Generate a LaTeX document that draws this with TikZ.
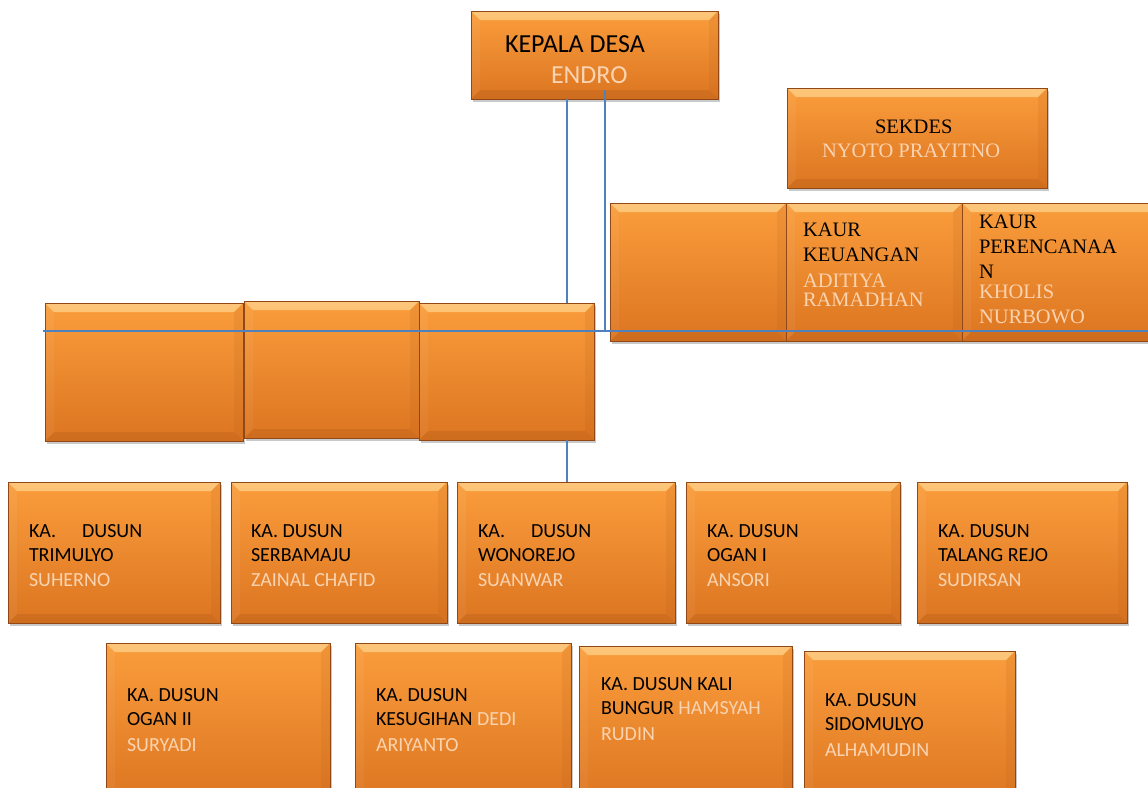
\documentclass[tikz,border=0pt]{standalone}
\usepackage{fontspec}
\setmainfont{Carlito}
\newfontfamily\tnr{Liberation Serif}
\usetikzlibrary{shadows}
\definecolor{orA}{HTML}{FA9D3C}
\definecolor{orB}{HTML}{F7922E}
\definecolor{orC}{HTML}{DC7521}
\definecolor{bevL}{HTML}{FDC67A}
\definecolor{bevD}{HTML}{A9561A}
\definecolor{nm}{HTML}{FAD3B1}
\definecolor{ln}{HTML}{4F81BD}
\tikzset{
  obox/.style={draw=bevD!85!black, line width=0.6pt, inner sep=0pt, outer sep=0pt,
    anchor=north west, top color=orA, middle color=orB, bottom color=orC,
    drop shadow={shadow xshift=2pt, shadow yshift=-3pt, opacity=0.3, fill=black!70},
    path picture={
      \shade[top color=bevL, bottom color=orA]
        (path picture bounding box.north west) -- (path picture bounding box.north east)
        -- ([xshift=-9pt,yshift=-9pt]path picture bounding box.north east)
        -- ([xshift=9pt,yshift=-9pt]path picture bounding box.north west) -- cycle;
      \fill[bevD, opacity=0.25]
        (path picture bounding box.south west) -- (path picture bounding box.south east)
        -- ([xshift=-9pt,yshift=9pt]path picture bounding box.south east)
        -- ([xshift=9pt,yshift=9pt]path picture bounding box.south west) -- cycle;
      \fill[bevD, opacity=0.12]
        (path picture bounding box.north east) -- (path picture bounding box.south east)
        -- ([xshift=-9pt,yshift=9pt]path picture bounding box.south east)
        -- ([xshift=-9pt,yshift=-9pt]path picture bounding box.north east) -- cycle;
      \fill[white, opacity=0.05]
        (path picture bounding box.north west) -- (path picture bounding box.south west)
        -- ([xshift=9pt,yshift=9pt]path picture bounding box.south west)
        -- ([xshift=9pt,yshift=-9pt]path picture bounding box.north west) -- cycle;
    }},
  nt/.style={anchor=base west, inner sep=0pt, outer sep=0pt, font=\fontsize{20}{24}\selectfont},
  nts/.style={nt, font=\tnr\fontsize{20.5}{24}\selectfont},
  ntb/.style={nt, font=\fontsize{26}{31}\selectfont},
  conn/.style={draw=ln, line width=1.4pt},
}
\begin{document}
\begin{tikzpicture}[x=1pt,y=-1pt]
\useasboundingbox (0,0) rectangle (1148,787);
\clip (0,0) rectangle (1148,787);
\coordinate (pA) at (567,0);
\coordinate (pB) at (605,90);
\coordinate (hL) at (43,331);
\coordinate (hR) at (1148,331);

% boxes
\node[obox, minimum width=247pt, minimum height=88pt] (kd) at (471,11) {};
\node[obox, minimum width=260pt, minimum height=100pt] (sek) at (787,88) {};
\node[obox, minimum width=176pt, minimum height=138pt] (k1) at (610,203) {};
\node[obox, minimum width=176pt, minimum height=138pt] (k2) at (786,203) {};
\node[obox, minimum width=200pt, minimum height=138pt] (k3) at (962,203) {};
\node[obox, minimum width=198pt, minimum height=138pt] (l1) at (45,303) {};
\node[obox, minimum width=175pt, minimum height=137pt] (l2) at (244,301) {};
\node[obox, minimum width=175pt, minimum height=137pt] (l3) at (419,303) {};
\node[obox, minimum width=212pt, minimum height=141pt] (d1) at (8,482) {};
\node[obox, minimum width=216pt, minimum height=141pt] (d2) at (231,482) {};
\node[obox, minimum width=218pt, minimum height=141pt] (d3) at (457,482) {};
\node[obox, minimum width=214pt, minimum height=141pt] (d4) at (686,482) {};
\node[obox, minimum width=210pt, minimum height=141pt] (d5) at (917,482) {};
\node[obox, minimum width=224pt, minimum height=160pt] (e1) at (106,643) {};
\node[obox, minimum width=216pt, minimum height=160pt] (e2) at (355,643) {};
\node[obox, minimum width=213pt, minimum height=160pt] (e3) at (579,646) {};
\node[obox, minimum width=211pt, minimum height=160pt] (e4) at (804,651) {};

% connectors
\draw[conn] (kd.south -| pA) -- (l3.north -| pA);
\draw[conn] (l3.south -| pA) -- (d3.north -| pA);
\draw[conn] (pB) -- (pB |- hR);
\draw[conn] (hL) -- (hR);

% texts
\node[ntb] (t-kd-1) at (505,52) {KEPALA DESA};
\node[ntb, text=nm] (t-kd-2) at (551,83) {ENDRO};
\node[nts] (t-sek-1) at (875,133) {SEKDES};
\node[nts, text=nm] (t-sek-2) at (822,157) {NYOTO PRAYITNO};
\node[nts] (t-k2-1) at (803,236) {KAUR};
\node[nts] (t-k2-2) at (803,261) {KEUANGAN};
\node[nts, text=nm] (t-k2-3) at (803,287) {ADITIYA};
\node[nts, text=nm] (t-k2-4) at (803,306) {RAMADHAN};
\node[nts] (t-k3-1) at (979,228) {KAUR};
\node[nts] (t-k3-2) at (979,253) {PERENCANAA};
\node[nts] (t-k3-3) at (979,278) {N};
\node[nts, text=nm] (t-k3-4) at (979,298) {KHOLIS};
\node[nts, text=nm] (t-k3-5) at (979,323) {NURBOWO};

\node[nt] (t-d1-1) at (29,537) {KA.\hspace*{26pt}DUSUN};
\node[nt] (t-d1-2) at (29,561) {TRIMULYO};
\node[nt, text=nm] (t-d1-3) at (29,586) {SUHERNO};
\node[nt] (t-d2-1) at (251,537) {KA. DUSUN};
\node[nt] (t-d2-2) at (251,561) {SERBAMAJU};
\node[nt, text=nm] (t-d2-3) at (251,586) {ZAINAL CHAFID};
\node[nt] (t-d3-1) at (478,537) {KA.\hspace*{26pt}DUSUN};
\node[nt] (t-d3-2) at (478,561) {WONOREJO};
\node[nt, text=nm] (t-d3-3) at (478,586) {SUANWAR};
\node[nt] (t-d4-1) at (707,537) {KA. DUSUN};
\node[nt] (t-d4-2) at (707,561) {OGAN I};
\node[nt, text=nm] (t-d4-3) at (707,586) {ANSORI};
\node[nt] (t-d5-1) at (938,537) {KA. DUSUN};
\node[nt] (t-d5-2) at (938,561) {TALANG REJO};
\node[nt, text=nm] (t-d5-3) at (938,586) {SUDIRSAN};

\node[nt] (t-e1-1) at (127,701) {KA. DUSUN};
\node[nt] (t-e1-2) at (127,725) {OGAN II};
\node[nt, text=nm] (t-e1-3) at (127,751) {SURYADI};
\node[nt] (t-e2-1) at (376,701) {KA. DUSUN};
\node[nt] (t-e2-2) at (376,725) {KESUGIHAN \textcolor{nm}{DEDI}};
\node[nt, text=nm] (t-e2-3) at (376,751) {ARIYANTO};
\node[nt] (t-e3-1) at (601,690) {KA. DUSUN KALI};
\node[nt] (t-e3-2) at (601,714) {BUNGUR \textcolor{nm}{HAMSYAH}};
\node[nt, text=nm] (t-e3-3) at (601,740) {RUDIN};
\node[nt] (t-e4-1) at (825,706) {KA. DUSUN};
\node[nt] (t-e4-2) at (825,730) {SIDOMULYO};
\node[nt, text=nm] (t-e4-3) at (825,756) {ALHAMUDIN};
\end{tikzpicture}
\end{document}
